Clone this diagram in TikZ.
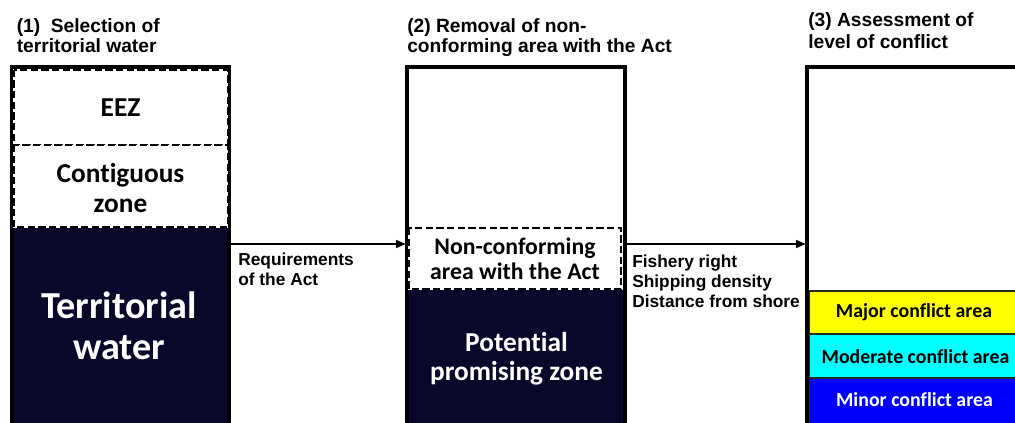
\documentclass[tikz,border=0pt]{standalone}
\usepackage{fontspec}
\setmainfont{Liberation Sans}
\newfontfamily\calfont[Ligatures=NoCommon]{Carlito}
\usetikzlibrary{arrows.meta}
\definecolor{navy}{RGB}{10,8,42}
\definecolor{bandyellow}{RGB}{255,255,0}
\definecolor{bandcyan}{RGB}{0,255,255}
\definecolor{bandblue}{RGB}{0,0,255}
\begin{document}
\begin{tikzpicture}[x=0.75pt,y=-0.75pt,
  border/.style={line width=3pt},
  dashbox/.style={line width=1.5pt,preaction={draw=white,fill=white,solid},draw=black,dash pattern=on 5.5pt off 2.5pt},
  band/.style={line width=1.4pt,draw=black!85},
  head/.style={anchor=north west,align=left,inner sep=0pt,font=\bfseries\fontsize{14.4}{15}\selectfont},
  lab/.style={anchor=north west,align=left,inner sep=0pt,font=\bfseries\fontsize{13}{15}\selectfont},
  boxtext/.style={align=center,inner sep=0pt,font=\calfont\bfseries\fontsize{20.5}{22}\selectfont},
  conn/.style={line width=1.1pt,-{Triangle[length=7pt,width=6pt]}}]
\useasboundingbox (0,0) rectangle (1015,422);
\clip (0,0) rectangle (1015,422);

% headings
\node[head] (h1) at (16.5,18) {(1)~~Selection of\\territorial water};
\node[head] (h2) at (407,18) {(2) Removal of non-\\conforming area with the Act};
\node[head,font=\bfseries\fontsize{14.4}{16.5}\selectfont] (h3) at (808,12) {(3) Assessment of\\level of conflict};

% column 1
\fill[navy] (12,227) rectangle (229,430);
\draw[border] (12,430) -- (12,67) -- (229,67) -- (229,430);
\draw[dashbox] (13.5,69.5) rectangle (227.5,145);
\draw[dashbox] (13.5,145) rectangle (227.5,227);
\node[boxtext] (eez) at (120.5,107.5) {EEZ};
\node[boxtext] (cz) at (120.5,188) {Contiguous\\zone};
\node[boxtext,text=white,font=\calfont\bfseries\fontsize{28.6}{31}\selectfont] (tw) at (119,326) {Territorial\\water};

% column 2
\fill[navy] (407,290) rectangle (625,430);
\draw[border] (407,430) -- (407,67) -- (625,67) -- (625,430);
\draw[dashbox] (408.5,228) rectangle (621,289);
\node[boxtext,font=\calfont\bfseries\fontsize{17.8}{19}\selectfont] (nc) at (515,259) {Non-conforming\\area with the Act};
\node[boxtext,text=white] (pz) at (516.5,359) {Potential\\promising zone};

% column 3
\draw[band,fill=bandyellow] (809,291) rectangle (1030,334);
\draw[band,fill=bandcyan] (809,334) rectangle (1030,378);
\draw[band,fill=bandblue] (809,378) rectangle (1030,430);
\draw[border] (807,430) -- (807,67) -- (1030,67);
\node[boxtext,font=\calfont\bfseries\fontsize{14.9}{16}\selectfont] (maj) at (914,312.5) {Major conflict area};
\node[boxtext,font=\calfont\bfseries\fontsize{14.9}{16}\selectfont] (mod) at (915.5,357) {Moderate conflict area};
\node[boxtext,text=white,font=\calfont\bfseries\fontsize{14.9}{16}\selectfont] (min) at (914.5,400) {Minor conflict area};

% connectors
\coordinate (c1e) at (231,244);
\coordinate (c2w) at (405.5,244);
\coordinate (c2e) at (627,244);
\coordinate (c3w) at (805.5,244);
\draw[conn] (c1e) -- (c2w);
\draw[conn] (c2e) -- (c3w);
\node[lab] (l1) at (238,252.5) {Requirements\\of the Act};
\node[lab] (l2) at (632,254.5) {Fishery right\\Shipping density\\Distance from shore};
\end{tikzpicture}
\end{document}
